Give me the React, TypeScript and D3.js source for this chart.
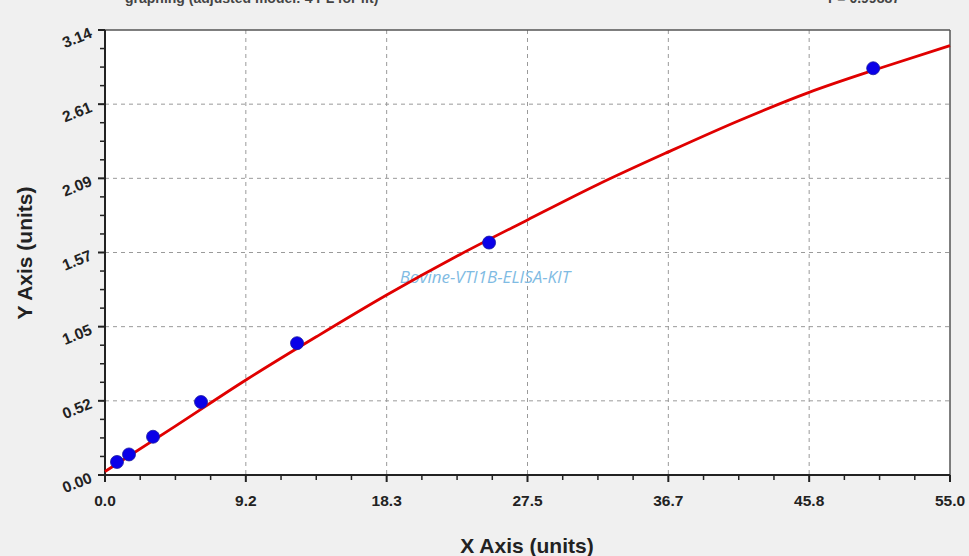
import React from "react";
import * as d3 from "d3";

const W = 969;
const H = 556;

const xTickLabels = ["0.0", "9.2", "18.3", "27.5", "36.7", "45.8", "55.0"];
const yTickLabels = ["0.00", "0.52", "1.05", "1.57", "2.09", "2.61", "3.14"];

const pointX = [0.78, 1.5625, 3.125, 6.25, 12.5, 25, 50];
const pointY = [0.092, 0.145, 0.27, 0.515, 0.93, 1.64, 2.87];

const curveX = [0, 4.58, 9.17, 13.75, 18.33, 22.92, 27.5, 32.08, 36.67, 41.25, 45.83, 50.42, 55];
const curveY = [0.025, 0.345, 0.67, 0.975, 1.27, 1.545, 1.8, 2.05, 2.28, 2.5, 2.7, 2.87, 3.03];

const xTitle = "X Axis (units)";
const yTitle = "Y Axis (units)";
const watermark = "Bovine-VTI1B-ELISA-KIT";
const topLeftText = "graphing (adjusted model: 4 PL for fit)";
const topRightText = "r = 0.99887";

export default function App() {
  const left = 105, right = 950, top = 30, bottom = 475;
  const x = d3.scaleLinear().domain([0, 55]).range([left, right]);
  const y = d3.scaleLinear().domain([0, 3.14]).range([bottom, top]);

  const xMajor = d3.range(7).map((i) => (55 / 6) * i);
  const yMajor = d3.range(7).map((i) => (3.14 / 6) * i);
  const xMinor = d3.range(25).map((i) => (55 / 24) * i).filter((_, i) => i % 4 !== 0);
  const yMinor = d3.range(25).map((i) => (3.14 / 24) * i).filter((_, i) => i % 4 !== 0);

  const line = d3
    .line<number>()
    .x((_, i) => x(curveX[i]))
    .y((d) => y(d))
    .curve(d3.curveMonotoneX);

  const font = "Liberation Sans, Arial, sans-serif";

  return (
    <svg
      width={W}
      height={H}
      style={{ position: "absolute", left: 0, top: 0, display: "block" }}
      fontFamily={font}
    >
      <rect x={0} y={0} width={W} height={H} fill="#f0f0f0" />
      <text x={125} y={3} fontSize={14} fontWeight="bold" fill="#444">{topLeftText}</text>
      <text x={828} y={3} fontSize={14} fontWeight="bold" fill="#444">{topRightText}</text>

      <rect x={left} y={top} width={right - left} height={bottom - top} fill="#ffffff" />

      {/* grid */}
      {xMajor.slice(1, -1).map((v, i) => (
        <line key={"gx" + i} x1={x(v)} x2={x(v)} y1={top} y2={bottom} stroke="#9a9a9a" strokeWidth={1} strokeDasharray="4,4" />
      ))}
      {yMajor.slice(1, -1).map((v, i) => (
        <line key={"gy" + i} x1={left} x2={right} y1={y(v)} y2={y(v)} stroke="#9a9a9a" strokeWidth={1} strokeDasharray="4,4" />
      ))}

      {/* frame */}
      <line x1={left} x2={right} y1={top} y2={top} stroke="#555" strokeWidth={1.5} />
      <line x1={right} x2={right} y1={top} y2={bottom} stroke="#555" strokeWidth={1.5} />
      <line x1={left} x2={left} y1={top} y2={bottom + 1} stroke="#222" strokeWidth={2} />
      <line x1={left - 1} x2={right} y1={bottom} y2={bottom} stroke="#222" strokeWidth={2} />

      {/* ticks */}
      {xMajor.map((v, i) => (
        <line key={"tx" + i} x1={x(v)} x2={x(v)} y1={bottom} y2={bottom + 7} stroke="#222" strokeWidth={2} />
      ))}
      {xMinor.map((v, i) => (
        <line key={"mx" + i} x1={x(v)} x2={x(v)} y1={bottom} y2={bottom + 5} stroke="#222" strokeWidth={1.5} />
      ))}
      {yMajor.map((v, i) => (
        <line key={"ty" + i} x1={left - 7} x2={left} y1={y(v)} y2={y(v)} stroke="#222" strokeWidth={2} />
      ))}
      {yMinor.map((v, i) => (
        <line key={"my" + i} x1={left - 5} x2={left} y1={y(v)} y2={y(v)} stroke="#222" strokeWidth={1.5} />
      ))}

      {/* tick labels */}
      {xMajor.map((v, i) => (
        <text key={"lx" + i} x={x(v)} y={bottom + 31} textAnchor="middle" fontSize={15.5} fontWeight="bold" fill="#222">
          {xTickLabels[i]}
        </text>
      ))}
      {yMajor.map((v, i) => (
        <text
          key={"ly" + i}
          transform={`translate(${left - 12},${y(v) + 7}) rotate(-22)`}
          textAnchor="end"
          fontSize={15.5}
          fontWeight="bold"
          fill="#222"
        >
          {yTickLabels[i]}
        </text>
      ))}

      {/* watermark */}
      <text x={485} y={283} textAnchor="middle" fontSize={17} fontStyle="italic" fill="#7fbbe3" fontFamily="Open Sans, sans-serif">
        {watermark}
      </text>

      {/* curve */}
      <path d={line(curveY) || ""} fill="none" stroke="#e00000" strokeWidth={2.8} />

      {/* points */}
      {pointX.map((v, i) => (
        <circle key={"p" + i} cx={x(v)} cy={y(pointY[i])} r={6.5} fill="#0a00e8" stroke="#1a1aa0" strokeWidth={0.8} />
      ))}

      {/* axis titles */}
      <text x={527} y={553} textAnchor="middle" fontSize={21} fontWeight="bold" fill="#222">{xTitle}</text>
      <text transform={`translate(32,253) rotate(-90)`} textAnchor="middle" fontSize={21} fontWeight="bold" fill="#222">
        {yTitle}
      </text>
    </svg>
  );
}
